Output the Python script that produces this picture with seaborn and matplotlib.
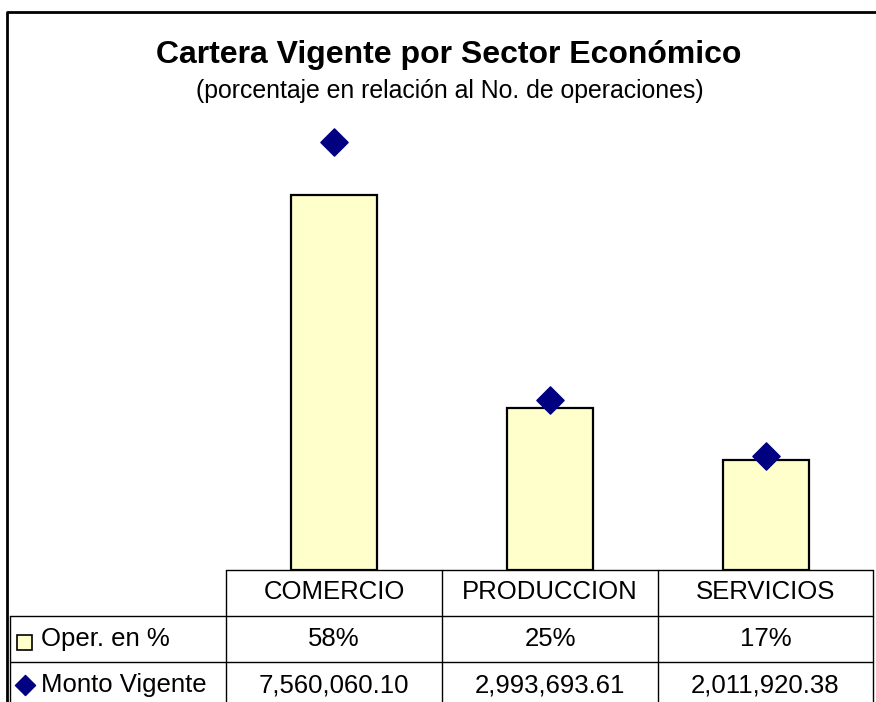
import matplotlib
matplotlib.use("Agg")
import matplotlib.pyplot as plt
import seaborn as sns
import pandas as pd

# datos del grafico
sectores = ["COMERCIO", "PRODUCCION", "SERVICIOS"]
oper_pct = [58, 25, 17]
monto_vigente = [7560060.10, 2993693.61, 2011920.38]

titulo = "Cartera Vigente por Sector Económico"
subtitulo = "(porcentaje en relación al No. de operaciones)"
serie_barras = "Oper. en %"
serie_puntos = "Monto Vigente"

df = pd.DataFrame({"sector": sectores, "oper": oper_pct, "monto": monto_vigente})

sns.set_style("white")
plt.rcParams["font.family"] = ["Liberation Sans", "DejaVu Sans"]
plt.rcParams["text.color"] = "black"

W, H = 876, 702
fig = plt.figure(figsize=(W / 100, H / 100), dpi=100)

# capa de fondo en pixeles para marco, titulos y tabla
bg = fig.add_axes([0, 0, 1, 1])
bg.set_xlim(0, W)
bg.set_ylim(H, 0)
bg.axis("off")

# area de trazado
x0, x1, ytop, ybot = 226, 874, 117, 570
ax = fig.add_axes([x0 / W, 1 - ybot / H, (x1 - x0) / W, (ybot - ytop) / H])
sns.barplot(data=df, x="sector", y="oper", color="#FFFFCC", edgecolor="black",
            linewidth=1.6, width=0.4, saturation=1, ax=ax)
ax.set_ylim(0, 70)
ax.set_xlim(-0.5, 2.5)
ax.axis("off")

ax2 = ax.twinx()
sns.scatterplot(data=df, x="sector", y="monto", marker="D", color="#000080",
                s=190, edgecolor="#000080", ax=ax2, zorder=5)
ax2.set_ylim(0, 8000000)
ax2.set_xlim(-0.5, 2.5)
ax2.axis("off")

# marco del grafico
bg.plot([7, 7, W], [H, 12, 12], color="black", lw=2)

# titulos
bg.text(449, 55, titulo, ha="center", va="center", fontsize=23, fontweight="bold")
bg.text(450, 91, subtitulo, ha="center", va="center", fontsize=17.9)

# tabla de datos
lw = 1.0
col_x = [226, 442, 658, 873]
bg.plot([226, 873], [570, 570], color="black", lw=lw)
bg.plot([10, 873], [616, 616], color="black", lw=lw)
bg.plot([10, 873], [662, 662], color="black", lw=lw)
for cx in col_x:
    bg.plot([cx, cx], [570, H], color="black", lw=lw)
bg.plot([10, 10], [616, H], color="black", lw=lw)

centros = [(col_x[i] + col_x[i + 1]) / 2 for i in range(3)]
for i, c in enumerate(centros):
    bg.text(c, 592, sectores[i], ha="center", va="center", fontsize=18.5)
    bg.text(c, 639, f"{oper_pct[i]}%", ha="center", va="center", fontsize=18.5)
    bg.text(c, 685, f"{monto_vigente[i]:,.2f}", ha="center", va="center", fontsize=18.5)

# claves de leyenda
bg.add_patch(plt.Rectangle((17, 635), 15, 15, facecolor="#FFFFCC", edgecolor="black", lw=1.2))
bg.scatter([25], [685], marker="D", s=105, color="#000080")
bg.text(41, 639, serie_barras, ha="left", va="center", fontsize=18.5)
bg.text(41, 685, serie_puntos, ha="left", va="center", fontsize=18.5)

fig.savefig("out.png", dpi=100)
